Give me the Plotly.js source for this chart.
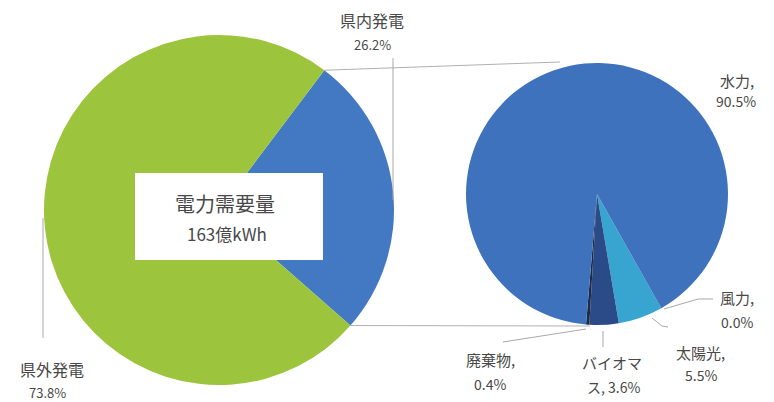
<!DOCTYPE html>
<html><head><meta charset="utf-8">
<script src="https://cdn.plot.ly/plotly-3.0.1.min.js"></script>
<style>html,body{margin:0;padding:0;background:#fff}#chart{width:774px;height:402px}</style>
</head><body><div id="chart"></div>
<script>
// ---- data ----
const leftLabels = ['県内発電', '県外発電'];
const leftValues = [26.2, 73.8];
const rightLabels = ['風力', '太陽光', 'バイオマス', '廃棄物', '水力'];
const rightValues = [0.0, 5.5, 3.6, 0.4, 90.5];
const centerTitle = '電力需要量';
const centerValue = '163億kWh';

// ---- layout helpers ----
const W = 774, H = 402;
const px = (x, y) => ({x: x / W, y: 1 - y / H});
const FONT = '"Noto Sans CJK JP", "Noto Sans", sans-serif';
const TXT = '#484848';

const leftColors = ['#4379C2', '#9CC43C'];
const rightColors = ['#4a7fc6', '#38A5D0', '#2B4B88', '#1F2B46', '#3F72BC'];

const L = {cx: 219, cy: 210, r: 175, rot: 37};
const R = {cx: 597, cy: 194, r: 131, rot: 150.6};

function dom(c) {
  const a = px(c.cx - c.r, c.cy + c.r), b = px(c.cx + c.r, c.cy - c.r);
  return {x: [a.x, b.x], y: [a.y, b.y]};
}

const traces = [
  {type: 'pie', labels: leftLabels, values: leftValues, sort: false,
   direction: 'clockwise', rotation: L.rot, domain: dom(L),
   marker: {colors: leftColors, line: {width: 0}},
   textinfo: 'none', hoverinfo: 'none', showlegend: false},
  {type: 'pie', labels: rightLabels, values: rightValues, sort: false,
   direction: 'clockwise', rotation: R.rot, domain: dom(R),
   marker: {colors: rightColors, line: {width: 0}},
   textinfo: 'none', hoverinfo: 'none', showlegend: false}
];

// label placement (pixel positions: name line, value line)
const leftPos = {'県内発電': [372, 20, 372, 45], '県外発電': [52, 369, 47, 392]};
const rightPos = {
  '水力': [737, 80, 736, 101],
  '風力': [737, 297, 737, 322],
  '太陽光': [700, 352, 701, 375],
  'バイオマス': [612, 362, 613, 387],
  '廃棄物': [490, 359, 490, 384]
};

const annotations = [];
function addAnn(x, y, text, size) {
  const p = px(x, y);
  annotations.push({xref: 'paper', yref: 'paper', x: p.x, y: p.y, text: text,
    showarrow: false, xanchor: 'center', yanchor: 'middle',
    font: {family: FONT, size: size, color: TXT}});
}
leftLabels.forEach((lab, i) => {
  const q = leftPos[lab];
  addAnn(q[0], q[1], lab, 16);
  addAnn(q[2], q[3], leftValues[i].toFixed(1) + '%', 13);
});
rightLabels.forEach((lab, i) => {
  const q = rightPos[lab];
  const v = rightValues[i].toFixed(1) + '%';
  let l1, l2;
  if (lab.length > 4) { l1 = lab.slice(0, 4); l2 = lab.slice(4) + ', ' + v; }
  else { l1 = lab + ','; l2 = v; }
  addAnn(q[0], q[1], l1, 15);
  addAnn(q[2], q[3], l2, 14);
});
// center box text
addAnn(225, 203, centerTitle, 20);
addAnn(227, 233, centerValue, 17);

// geometry of the left pie's first slice edges
const deg = Math.PI / 180;
const a0 = L.rot * deg, a1 = (L.rot + leftValues[0] / 100 * 360) * deg;
const e0 = [L.cx + L.r * Math.sin(a0), L.cy - L.r * Math.cos(a0)];
const e1 = [L.cx + L.r * Math.sin(a1), L.cy - L.r * Math.cos(a1)];

const shapes = [];
function line(pts, color) {
  let d = '';
  pts.forEach((p, i) => { const q = px(p[0], p[1]); d += (i ? ' L' : 'M') + q.x + ',' + q.y; });
  shapes.push({type: 'path', xref: 'paper', yref: 'paper', path: d,
    line: {color: color || '#A8A8A8', width: 1}});
}
// white box
(function () {
  const a = px(135, 260), b = px(323, 173);
  shapes.push({type: 'rect', xref: 'paper', yref: 'paper', x0: a.x, y0: a.y, x1: b.x, y1: b.y,
    fillcolor: '#ffffff', line: {width: 0}, layer: 'above'});
})();
// connector lines
line([e0, [560, 62]], '#B0B0B0');
line([e1, [590, 326]], '#B0B0B0');
// leader lines
line([[393, 58], [393, 200]]);
line([[43, 218], [43, 338]]);
line([[713, 299], [698, 299], [664, 309]]);
line([[652, 318], [662, 326], [668, 327]]);
line([[603, 331], [603, 347]]);
line([[503, 342], [586, 329]]);

const layout = {
  width: W, height: H, margin: {l: 0, r: 0, t: 0, b: 0},
  paper_bgcolor: '#ffffff', plot_bgcolor: '#ffffff',
  showlegend: false, shapes: shapes, annotations: annotations
};
Plotly.newPlot('chart', traces, layout, {staticPlot: true, displayModeBar: false});
</script></body></html>
